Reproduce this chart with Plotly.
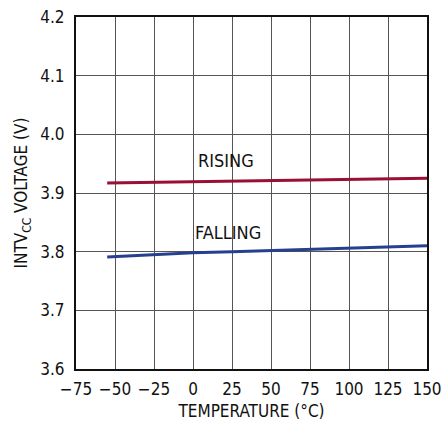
import plotly.graph_objects as go

temp_rising = [-55, -25, 0, 25, 50, 75, 100, 125, 150]
v_rising = [3.917, 3.918, 3.919, 3.920, 3.921, 3.922, 3.923, 3.924, 3.925]
temp_falling = [-55, -25, 0, 25, 50, 75, 100, 125, 150]
v_falling = [3.791, 3.795, 3.798, 3.800, 3.802, 3.804, 3.806, 3.808, 3.810]

x_ticks = [-75, -50, -25, 0, 25, 50, 75, 100, 125, 150]
y_ticks = [3.6, 3.7, 3.8, 3.9, 4.0, 4.1, 4.2]

FONT = "DejaVu Sans Condensed, Liberation Sans Narrow, Arial Narrow, sans-serif"

fig = go.Figure()
fig.add_trace(go.Scatter(x=temp_rising, y=v_rising, mode="lines",
                         line=dict(color="#9a0f33", width=3), showlegend=False))
fig.add_trace(go.Scatter(x=temp_falling, y=v_falling, mode="lines",
                         line=dict(color="#273f8f", width=3), showlegend=False))

fig.add_annotation(x=21, y=3.956, text="RISING", showarrow=False,
                   font=dict(family=FONT, size=18, color="#111"))
fig.add_annotation(x=22.5, y=3.8335, text="FALLING", showarrow=False,
                   font=dict(family=FONT, size=18, color="#111"))

fig.update_layout(
    width=441, height=421,
    margin=dict(l=76, r=14, t=17, b=52),
    paper_bgcolor="white", plot_bgcolor="white",
    font=dict(family=FONT, color="#111"),
    xaxis=dict(range=[-75, 150], tickvals=x_ticks, ticks="",
               showgrid=True, gridcolor="#555", gridwidth=1,
               showline=True, linecolor="#111", linewidth=2, mirror=True,
               zeroline=False, tickfont=dict(size=17), automargin=False,
               ticklabelstandoff=4, ticklabeloverflow="allow",
               title=dict(text="TEMPERATURE (°C)", font=dict(size=17), standoff=9)),
    yaxis=dict(range=[3.6, 4.2], tickvals=y_ticks, tickformat=".1f", ticks="",
               showgrid=True, gridcolor="#555", gridwidth=1,
               showline=True, linecolor="#111", linewidth=2, mirror=True,
               zeroline=False, tickfont=dict(size=17), automargin=False,
               ticklabelstandoff=6,
               title=dict(text="INTV<sub>CC</sub> VOLTAGE (V)", font=dict(size=17), standoff=8)),
)

fig.write_html("out.html", config={"displayModeBar": False},
               post_script="document.body.style.margin='0px';document.body.style.overflow='hidden';")
